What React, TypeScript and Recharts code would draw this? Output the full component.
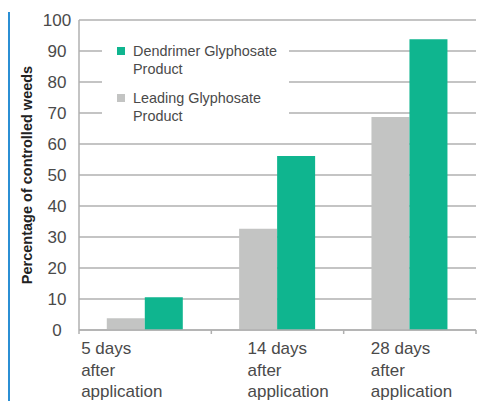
import React from "react";
import {
  Bar,
  BarChart,
  CartesianGrid,
  Label,
  Legend,
  XAxis,
  YAxis,
} from "recharts";

const categories = ["5 days after application", "14 days after application", "28 days after application"];
const leadingValues = [3.8, 32.7, 68.7];
const dendrimerValues = [10.6, 56.1, 93.8];
const yTicks = [0, 10, 20, 30, 40, 50, 60, 70, 80, 90, 100];

const GREEN = "#0fb58f";
const GRAY = "#c3c4c3";
const GRID = "#b0b0b0";
const TEXT = "#4a4a4a";
const FONT = "'Liberation Sans', Arial, sans-serif";

const W = 484;
const H = 401;
const PLOT_LEFT = 79;
const PLOT_RIGHT = 476;
const BAND = (PLOT_RIGHT - PLOT_LEFT) / categories.length;
// left edge of each wrapped label, relative to band centre
const LABEL_DX = [-64, -30, -39];

const data = categories.map((name, i) => ({
  name,
  leading: leadingValues[i],
  dendrimer: dendrimerValues[i],
}));

const XTick = (props: any) => {
  const { x, y, payload, index } = props;
  const words = String(payload.value).split(" ");
  const lines = [words.slice(0, 2).join(" "), words[2], words[3]];
  const left = x - BAND / 2;
  return (
    <g>
      <line x1={left} x2={left} y1={y} y2={y + 4} stroke={GRID} strokeWidth={1.5} />
      {index === categories.length - 1 && (
        <line x1={left + BAND} x2={left + BAND} y1={y} y2={y + 4} stroke={GRID} strokeWidth={1.5} />
      )}
      <text x={x + LABEL_DX[index]} y={y} fill={TEXT} fontSize={17} fontFamily={FONT}>
        {lines.map((l, i) => (
          <tspan key={i} x={x + LABEL_DX[index]} y={y + 24 + i * 21.5}>
            {l}
          </tspan>
        ))}
      </text>
    </g>
  );
};

const YTick = (props: any) => {
  const { y, payload } = props;
  return (
    <text x={57} y={y + 6} textAnchor="middle" fill={TEXT} fontSize={17} fontFamily={FONT}>
      {payload.value}
    </text>
  );
};

const legendItems = [
  { label: "Dendrimer Glyphosate Product", color: GREEN },
  { label: "Leading Glyphosate Product", color: GRAY },
];

const LegendBox = () => (
  <div style={{ padding: "4px 0 0 15px", fontFamily: FONT, fontSize: 14.4, color: TEXT }}>
    {legendItems.map((item, i) => (
      <div key={i} style={{ display: "flex", alignItems: "flex-start", marginBottom: 11 }}>
        <span
          style={{
            width: 8,
            height: 8,
            background: item.color,
            marginTop: 5,
            marginRight: 8,
            flex: "none",
          }}
        />
        <span style={{ lineHeight: "18px", maxWidth: 152 }}>{item.label}</span>
      </div>
    ))}
  </div>
);

export default function App() {
  return (
    <div style={{ position: "absolute", left: 0, top: 0, width: W, height: H, background: "#fff" }}>
      <div
        style={{
          position: "absolute",
          left: 8,
          top: 12,
          width: 1.5,
          height: H - 12,
          background: "#2b8fd4",
        }}
      />
      <BarChart
        width={W}
        height={H}
        data={data}
        margin={{ top: 20, right: W - PLOT_RIGHT, left: 0, bottom: 0 }}
        barCategoryGap="21%"
        barGap={0}
      >
        <CartesianGrid vertical={false} stroke={GRID} strokeWidth={1.5} />
        <XAxis
          dataKey="name"
          height={71}
          tickSize={0}
          tickMargin={0}
          tickLine={false}
          axisLine={{ stroke: GRID, strokeWidth: 1.5 }}
          tick={<XTick />}
          interval={0}
        />
        <YAxis
          width={PLOT_LEFT}
          domain={[0, 100]}
          ticks={yTicks}
          tickLine={false}
          axisLine={{ stroke: GRID, strokeWidth: 1.5 }}
          tick={<YTick />}
        >
          <Label
            value="Percentage of controlled weeds"
            angle={-90}
            position="center"
            dx={-13}
            style={{ fontFamily: FONT, fontSize: 14.5, fontWeight: 700, fill: "#222" }}
          />
        </YAxis>
        <Legend
          layout="horizontal"
          verticalAlign="middle"
          align="center"
          content={<LegendBox />}
          wrapperStyle={{ left: 102, top: 38, width: 187, height: 88, background: "#fff" }}
        />
        <Bar dataKey="leading" name="Leading Glyphosate Product" fill={GRAY} isAnimationActive={false} />
        <Bar dataKey="dendrimer" name="Dendrimer Glyphosate Product" fill={GREEN} isAnimationActive={false} />
      </BarChart>
    </div>
  );
}
